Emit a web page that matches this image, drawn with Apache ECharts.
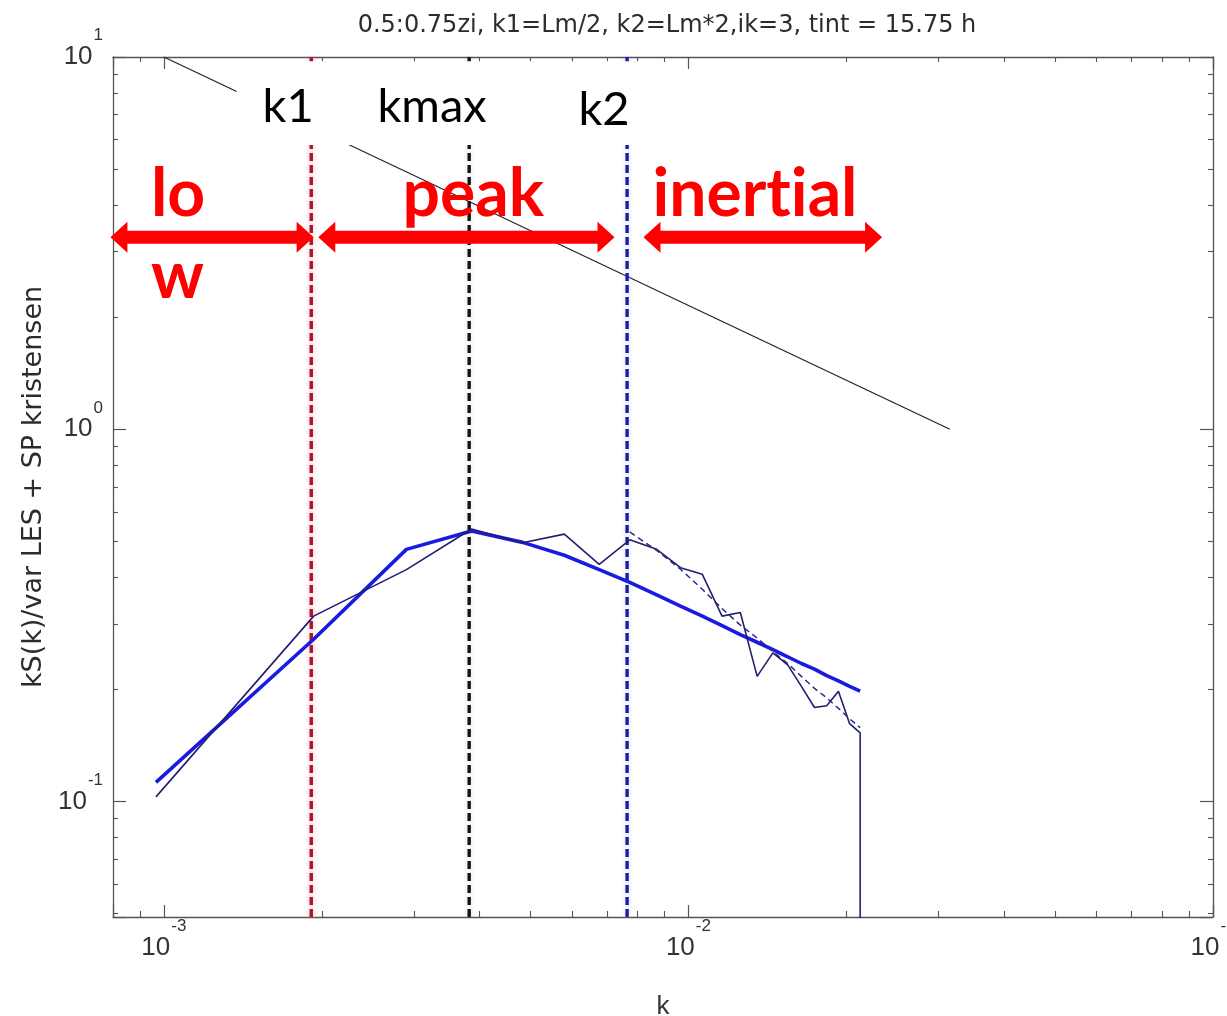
<!DOCTYPE html>
<html>
<head>
<meta charset="utf-8">
<script src="https://cdn.jsdelivr.net/npm/echarts@6/dist/echarts.min.js"></script>
<style>
  html, body { margin: 0; padding: 0; background: #ffffff; }
  #chart { width: 1227px; height: 1016px; }
</style>
</head>
<body>
<div id="chart"></div>
<script>
// Wavenumbers of the LES spectral estimates
const kLES = [0.000966, 0.00193, 0.0029, 0.00386, 0.00483, 0.0058, 0.00676, 0.00773,
              0.0087, 0.00966, 0.01063, 0.01159, 0.01256, 0.01352, 0.01449, 0.01546,
              0.01642, 0.01739, 0.01835, 0.01932, 0.02029, 0.02125];
// kS(k)/var from the LES
const lesSpectrum = [0.103, 0.315, 0.42, 0.54, 0.496, 0.523, 0.434, 0.505,
                     0.476, 0.425, 0.408, 0.315, 0.322, 0.217, 0.251, 0.233,
                     0.204, 0.179, 0.181, 0.198, 0.162, 0.153];
// value the LES spectrum drops to beyond its last resolved wavenumber
const lesCutoffValue = 0.0001;
// Kristensen model spectrum at the same wavenumbers
const modelSpectrum = [0.1127, 0.273, 0.476, 0.533, 0.497, 0.459, 0.42, 0.388,
                       0.359, 0.335, 0.315, 0.297, 0.281, 0.268, 0.256, 0.245,
                       0.235, 0.227, 0.218, 0.211, 0.204, 0.198];
// smoothed LES spectrum over the inertial range
const kSmooth = [0.00773, 0.0087, 0.00966, 0.01063, 0.01159, 0.01256, 0.01352, 0.01449,
                 0.01546, 0.01642, 0.01739, 0.01835, 0.01932, 0.02029, 0.02125];
const smoothSpectrum = [0.53, 0.473, 0.421, 0.372, 0.33, 0.298, 0.275, 0.253,
                        0.235, 0.217, 0.2015, 0.19, 0.178, 0.167, 0.158];
// -2/3 reference slope
const refK = [0.001, 0.0315];
const refValue = [10, 1];
// characteristic wavenumbers
const k1 = 0.00191;
const kMax = 0.00382;
const k2 = 0.00764;
// decades that carry a tick label
const xDecades = [-3, -2, -1];
const yDecades = [-1, 0, 1];

// axis ranges
const xRange = [0.0008, 0.1];
const yRange = [0.049, 10];

// range arrows (start k, end k) and the level they sit at
const rangeArrows = [[0.000791, 0.00193], [0.00197, 0.00723], [0.00821, 0.0234]];
const arrowLevel = 3.28;
// label panel behind the wavenumber names: k from/to, value from/to
const labelPanel = [0.001376, 0.00884, 9.74, 5.8];
// annotation texts, anchored at their left edge / vertical middle
const annotations = [
  { text: 'k1',       k: 0.001542, v: 7.37, kind: 'name' },
  { text: 'kmax',     k: 0.002554, v: 7.37, kind: 'name' },
  { text: 'k2',       k: 0.00617,  v: 7.2,  kind: 'name' },
  { text: 'lo',       k: 0.000945, v: 4.28, kind: 'range' },
  { text: 'w',        k: 0.000945, v: 2.576, kind: 'range' },
  { text: 'peak',     k: 0.00285,  v: 4.28, kind: 'range' },
  { text: 'iner\u200Ct\u200Cial', k: 0.00854,  v: 4.28, kind: 'range' }
];

const annoStyles = {
  name:  { fill: '#000000', fontFamily: 'Lato', fontSize: 47, fontWeight: 'normal' },
  range: { fill: '#ff0000', fontFamily: 'Lato', fontSize: 66, fontWeight: 'bold' }
};

const axisGrey = '#555555';
const tickFont = 'Liberation Sans';

function decadeLabel(decades) {
  return function (v) {
    const e = Math.log10(v);
    const r = Math.round(e);
    if (Math.abs(e - r) > 1e-6 || decades.indexOf(r) < 0) return '';
    return '{b|10}{s|' + r + '}';
  };
}
const labelRich = {
  b: { fontSize: 26, fontFamily: tickFont, color: '#333', lineHeight: 26, verticalAlign: 'bottom' },
  s: { fontSize: 17, fontFamily: tickFont, color: '#333', lineHeight: 17, verticalAlign: 'bottom', padding: [0, 0, 26, 1] }
};

function logAxis(range, extra) {
  return Object.assign({
    type: 'log',
    logBase: 10,
    min: range[0],
    max: range[1],
    axisLine: { show: true, onZero: false, lineStyle: { color: axisGrey, width: 1.3 } },
    splitLine: { show: false },
    minorSplitLine: { show: false }
  }, extra);
}

function vline(k, color, glow) {
  return {
    type: 'line',
    z: 2,
    silent: true,
    symbol: 'none',
    data: [[k, yRange[0]], [k, yRange[1]]],
    lineStyle: { color: color, width: 3.4, type: [8, 4], shadowColor: glow, shadowBlur: 5 }
  };
}

const chart = echarts.init(document.getElementById('chart'), null, { renderer: 'canvas' });

chart.setOption({
  animation: false,
  backgroundColor: '#ffffff',
  title: {
    text: '0.5:0.75zi, k1=Lm/2, k2=Lm*2,ik=3, tint = 15.75 h',
    left: 662,
    textAlign: 'center',
    top: 9,
    textStyle: { fontFamily: 'DejaVu Sans', fontSize: 24, fontWeight: 'normal', color: '#2c2c2c' }
  },
  grid: { left: 113, right: 14, top: 57, bottom: 99, outerBoundsMode: 'none', containLabel: false },
  xAxis: [
    logAxis(xRange, {
      position: 'bottom',
      name: 'k',
      nameLocation: 'middle',
      nameGap: 77,
      nameTextStyle: { fontFamily: tickFont, fontSize: 26, color: '#333' },
      axisTick: { show: true, inside: true, length: 12, lineStyle: { color: axisGrey, width: 1.2 } },
      minorTick: { show: true, splitNumber: 9, length: 6, lineStyle: { color: axisGrey, width: 1.1 } },
      axisLabel: { show: true, margin: 18, formatter: decadeLabel(xDecades), rich: labelRich }
    }),
    logAxis(xRange, {
      position: 'top',
      axisTick: { show: true, inside: true, length: 12, lineStyle: { color: axisGrey, width: 1.2 } },
      minorTick: { show: true, splitNumber: 9, length: 5, lineStyle: { color: axisGrey, width: 1.1 } },
      axisLabel: { show: false }
    })
  ],
  yAxis: [
    logAxis(yRange, {
      position: 'left',
      name: 'kS(k)/var LES + SP kristensen',
      nameLocation: 'middle',
      nameRotate: 90,
      nameGap: 64,
      nameTextStyle: { fontFamily: 'DejaVu Sans', fontSize: 27, color: '#2c2c2c' },
      axisTick: { show: true, inside: true, length: 13, lineStyle: { color: axisGrey, width: 1.2 } },
      minorTick: { show: true, splitNumber: 9, length: 5, lineStyle: { color: axisGrey, width: 1.1 } },
      axisLabel: { show: true, margin: 10, formatter: decadeLabel(yDecades), rich: labelRich }
    }),
    logAxis(yRange, {
      position: 'right',
      axisTick: { show: true, inside: true, length: 13, lineStyle: { color: axisGrey, width: 1.2 } },
      minorTick: { show: true, splitNumber: 9, length: 5, lineStyle: { color: axisGrey, width: 1.1 } },
      axisLabel: { show: false }
    })
  ],
  series: [
    {
      name: 'reference',
      type: 'line',
      z: 2,
      silent: true,
      symbol: 'none',
      data: refK.map((k, i) => [k, refValue[i]]),
      lineStyle: { color: '#222222', width: 1.2 }
    },
    vline(k1, '#a3182f', 'rgba(255,110,130,0.7)'),
    vline(kMax, '#141414', 'rgba(150,150,150,0.4)'),
    vline(k2, '#1c1ca0', 'rgba(160,160,255,0.55)'),
    {
      name: 'model',
      type: 'line',
      z: 3,
      silent: true,
      symbol: 'none',
      data: kLES.map((k, i) => [k, modelSpectrum[i]]),
      lineStyle: { color: '#1a1ae0', width: 3.6 }
    },
    {
      name: 'LES',
      type: 'line',
      z: 4,
      silent: true,
      symbol: 'none',
      data: kLES.map((k, i) => [k, lesSpectrum[i]]).concat([[kLES[kLES.length - 1], lesCutoffValue]]),
      lineStyle: { color: '#20206e', width: 1.6 }
    },
    {
      name: 'smoothed',
      type: 'line',
      z: 4,
      silent: true,
      symbol: 'none',
      data: kSmooth.map((k, i) => [k, smoothSpectrum[i]]),
      lineStyle: { color: '#2a2a80', width: 1.5, type: [6, 4] }
    },
    {
      name: 'label panel',
      type: 'custom',
      z: 10,
      silent: true,
      clip: false,
      data: [labelPanel],
      encode: { x: [0, 1], y: [2, 3] },
      renderItem: function (params, api) {
        const a = api.coord([api.value(0), api.value(2)]);
        const b = api.coord([api.value(1), api.value(3)]);
        return {
          type: 'rect',
          shape: { x: a[0], y: a[1], width: b[0] - a[0], height: b[1] - a[1] },
          style: { fill: '#ffffff' }
        };
      }
    },
    {
      name: 'range arrows',
      type: 'custom',
      z: 20,
      silent: true,
      clip: false,
      data: rangeArrows.map(r => [r[0], r[1], arrowLevel]),
      encode: { x: [0, 1], y: 2 },
      renderItem: function (params, api) {
        const p0 = api.coord([api.value(0), api.value(2)]);
        const p1 = api.coord([api.value(1), api.value(2)]);
        const y = p0[1], x0 = p0[0], x1 = p1[0];
        const h = 6.5, H = 15.5, L = 17;
        return {
          type: 'polygon',
          shape: {
            points: [
              [x0, y], [x0 + L, y - H], [x0 + L, y - h], [x1 - L, y - h], [x1 - L, y - H],
              [x1, y], [x1 - L, y + H], [x1 - L, y + h], [x0 + L, y + h], [x0 + L, y + H]
            ]
          },
          style: { fill: '#ff0000' }
        };
      }
    },
    {
      name: 'annotations',
      type: 'custom',
      z: 21,
      silent: true,
      clip: false,
      data: annotations.map(a => [a.k, a.v]),
      encode: { x: 0, y: 1 },
      renderItem: function (params, api) {
        const a = annotations[params.dataIndex];
        const st = annoStyles[a.kind];
        const p = api.coord([api.value(0), api.value(1)]);
        return {
          type: 'text',
          x: p[0],
          y: p[1],
          style: {
            text: a.text,
            fill: st.fill,
            fontFamily: st.fontFamily,
            fontSize: st.fontSize,
            fontWeight: st.fontWeight,
            align: 'left',
            verticalAlign: 'middle'
          }
        };
      }
    }
  ]
});
</script>
</body>
</html>
